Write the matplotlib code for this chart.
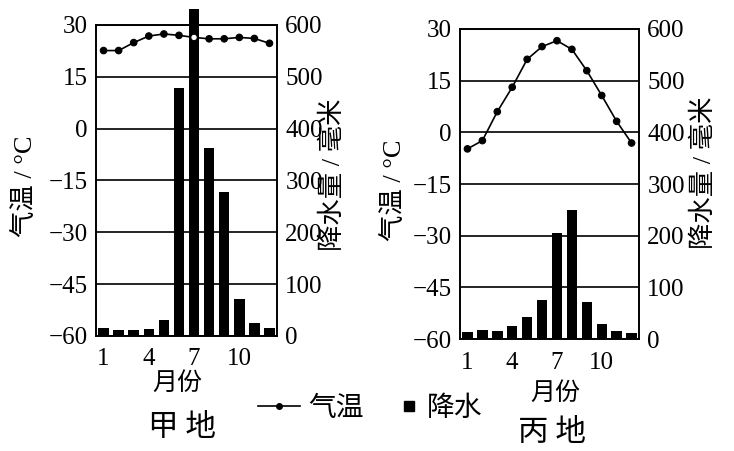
import matplotlib.pyplot as plt
from matplotlib.lines import Line2D
import numpy as np

plt.rcParams['font.family'] = ['Liberation Serif', 'Noto Sans CJK SC']
plt.rcParams['font.size'] = 18

CJK = ['Noto Sans CJK SC', 'DejaVu Sans']
MIX = ['Liberation Serif', 'Noto Sans CJK SC']

months = np.arange(1, 13)

# 甲地
temp_a = [22.6, 22.6, 24.9, 26.8, 27.4, 27.0, 26.4, 26.0, 26.0, 26.4, 26.1, 24.7]
rain_a = [16, 12, 12, 13, 30, 478, 631, 363, 277, 71, 26, 16]

# 丙地
temp_b = [-4.8, -2.4, 6.0, 13.1, 21.2, 24.9, 26.6, 24.1, 17.9, 10.7, 3.2, -3.1]
rain_b = [13, 18, 15, 26, 42, 75, 205, 250, 72, 29, 15, 12]

fig = plt.figure(figsize=(7.34, 4.51), dpi=100)


def climate_panel(rect, temp, rain, name, lab):
    ax = fig.add_axes(rect)
    ax2 = ax.twinx()
    ax.set_zorder(ax2.get_zorder() + 1)
    ax.patch.set_visible(False)

    ax2.bar(months, rain, width=0.7, color='black', clip_on=False)
    ax2.set_ylim(0, 600)
    ax2.set_yticks([0, 100, 200, 300, 400, 500, 600])

    # points sitting on a black bar are drawn hollow
    rain_as_temp = np.array(rain) * 90 / 600 - 60
    face = ['white' if r > t else 'black' for r, t in zip(rain_as_temp, temp)]
    ax.plot(months, temp, color='black', lw=1.2, zorder=3)
    ax.scatter(months, temp, s=22, c=face, edgecolors='black', linewidths=0.8, zorder=4)
    ax.set_ylim(-60, 30)
    ax.set_yticks([-60, -45, -30, -15, 0, 15, 30])
    ax.set_xlim(0.5, 12.5)
    ax.set_xticks([1, 4, 7, 10])
    ax.grid(axis='y', color='black', lw=1.2)

    for a in (ax, ax2):
        a.tick_params(length=0, pad=6)
        for s in a.spines.values():
            s.set_linewidth(1.2)
    ax.tick_params(axis='x', pad=9)

    ax.text(lab['yl'][0], lab['yl'][1], '气温 / °C', rotation=90, transform=ax.transAxes,
            ha='center', va='center', family=MIX, fontsize=19)
    ax.text(lab['yr'][0], lab['yr'][1], '降水量 / 毫米', rotation=90, transform=ax.transAxes,
            ha='center', va='center', family=MIX, fontsize=19)
    ax.text(lab['m'][0], lab['m'][1], '月份', transform=ax.transAxes,
            ha='center', va='center', family=CJK, fontsize=18)
    ax.text(lab['n'][0], lab['n'][1], name, transform=ax.transAxes,
            ha='center', va='center', family=CJK, fontsize=22)
    return ax


climate_panel([0.1308, 0.2550, 0.2466, 0.6896], temp_a, rain_a, '甲 地',
              {'yl': (-0.39, 0.48), 'yr': (1.31, 0.52), 'm': (0.45, -0.151), 'n': (0.475, -0.293)})
climate_panel([0.6267, 0.2483, 0.2439, 0.6874], temp_b, rain_b, '丙 地',
              {'yl': (-0.37, 0.48), 'yr': (1.36, 0.535), 'm': (0.53, -0.174), 'n': (0.514, -0.303)})

leg_temp = fig.legend([Line2D([], [], color='black', lw=1.2, marker='o', markersize=4)], ['气温'],
                      loc='center', bbox_to_anchor=(0.424, 0.096), frameon=False,
                      prop={'family': CJK, 'size': 20}, handlelength=1.5, handletextpad=0.3)
fig.legend([Line2D([], [], color='black', lw=0, marker='s', markersize=7)], ['降水'],
           loc='center', bbox_to_anchor=(0.602, 0.096), frameon=False,
           prop={'family': CJK, 'size': 20}, handlelength=0.6, handletextpad=0.35)

fig.savefig('out.png', dpi=100)
